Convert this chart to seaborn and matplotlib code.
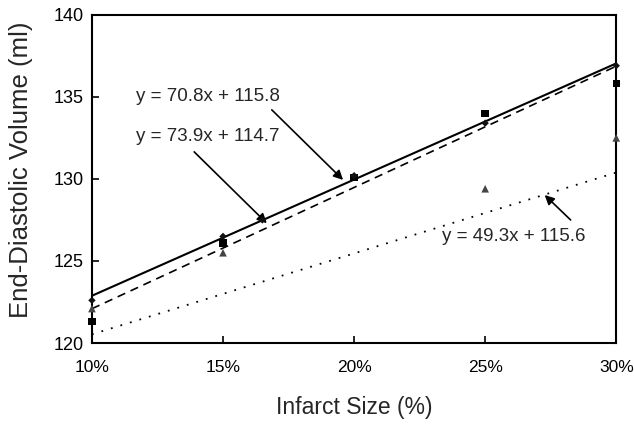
import numpy as np
import pandas as pd
import matplotlib
matplotlib.use("Agg")
import matplotlib.pyplot as plt
from matplotlib.ticker import PercentFormatter
import seaborn as sns

# measured points (infarct size as fraction, EDV in ml)
x_diamond = [0.10, 0.15, 0.165, 0.20, 0.25, 0.30]
edv_diamond = [122.6, 126.5, 127.5, 130.2, 133.4, 136.9]
x_square = [0.10, 0.15, 0.20, 0.25, 0.30]
edv_square = [121.3, 126.1, 130.1, 134.0, 135.8]
x_triangle = [0.10, 0.15, 0.25, 0.30]
edv_triangle = [122.1, 125.5, 129.4, 132.5]

# trend lines: slope, intercept
fit_solid = (70.8, 115.8)
fit_dashed = (73.9, 114.7)
fit_dotted = (49.3, 115.6)
fit_x = [0.10, 0.30]

x_ticks = [0.10, 0.15, 0.20, 0.25, 0.30]
y_ticks = [120, 125, 130, 135, 140]

sns.set_style("ticks")
plt.rcParams['font.family'] = ['Liberation Sans', 'DejaVu Sans']

fig = plt.figure(figsize=(6.34, 4.24), dpi=100)
ax = fig.add_axes([0.145, 0.191, 0.827, 0.774])

def fit_df(fit):
    return pd.DataFrame({'x': fit_x, 'y': [fit[0] * v + fit[1] for v in fit_x]})

sns.lineplot(data=fit_df(fit_solid), x='x', y='y', ax=ax, color='black', lw=1.5)
sns.lineplot(data=fit_df(fit_dashed), x='x', y='y', ax=ax, color='black', lw=1.2,
             dashes=False, linestyle=(0, (5, 3.5)))
sns.lineplot(data=fit_df(fit_dotted), x='x', y='y', ax=ax, color='black', lw=1.3,
             linestyle=(0, (1, 4.5)))

sns.scatterplot(x=x_triangle, y=edv_triangle, ax=ax, marker='^', s=30,
                color='#444444', edgecolor='none', zorder=3, clip_on=False)
sns.scatterplot(x=x_square, y=edv_square, ax=ax, marker='s', s=28,
                color='black', edgecolor='none', zorder=4, clip_on=False)
sns.scatterplot(x=x_diamond, y=edv_diamond, ax=ax, marker='D', s=14,
                color='#111111', edgecolor='none', zorder=5, clip_on=False)

ax.set_xlim(0.10, 0.30)
ax.set_ylim(120, 140)
ax.set_xticks(x_ticks)
ax.set_yticks(y_ticks)
ax.xaxis.set_major_formatter(PercentFormatter(xmax=1, decimals=0))
ax.tick_params(direction='in', length=5, width=1.2, labelsize=12.5, colors='black',
               pad=12)
ax.tick_params(axis='y', pad=6, labelsize=13)
for sp in ax.spines.values():
    sp.set_visible(True)
    sp.set_linewidth(1.5)
    sp.set_color('black')

ax.set_xlabel('Infarct Size (%)', fontsize=16.5, labelpad=15)
ax.set_ylabel('End-Diastolic Volume (ml)', fontsize=18.5)
ax.yaxis.set_label_coords(-0.112, 0.527)

ax.text(0.1441, 135.0, 'y = 70.8x + 115.8', ha='center', va='center', fontsize=13.5)
ax.text(0.1441, 132.6, 'y = 73.9x + 114.7', ha='center', va='center', fontsize=13.5)
ax.text(0.2608, 126.5, 'y = 49.3x + 115.6', ha='center', va='center', fontsize=13.5)

arrow = dict(arrowstyle='-|>', color='black', lw=1.2, mutation_scale=14,
             shrinkA=0, shrinkB=0)
ax.annotate('', xy=(0.1958, 129.94), xytext=(0.1686, 134.21), arrowprops=arrow)
ax.annotate('', xy=(0.1667, 127.3), xytext=(0.139, 131.65), arrowprops=arrow)
ax.annotate('', xy=(0.2727, 129.02), xytext=(0.2826, 127.5), arrowprops=arrow)

fig.savefig('out.png', dpi=100)
